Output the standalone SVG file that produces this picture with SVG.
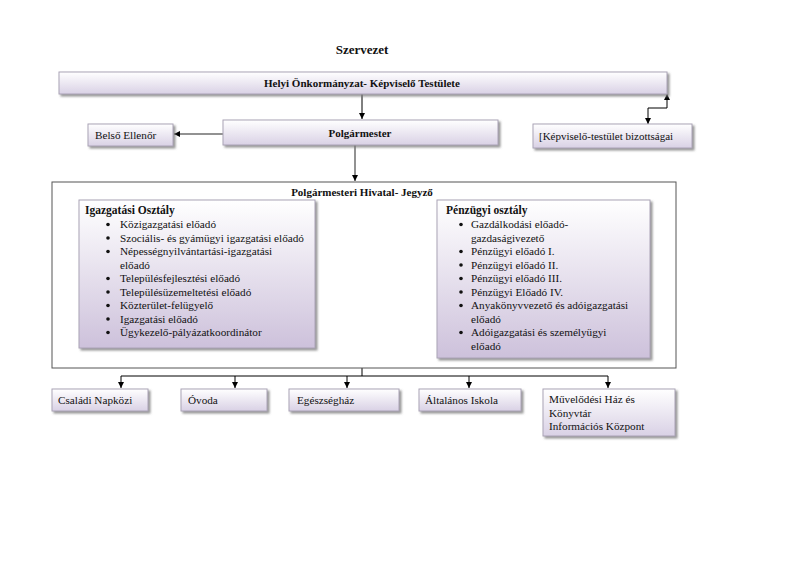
<svg xmlns="http://www.w3.org/2000/svg" width="800" height="566" viewBox="0 0 800 566">
<defs>
<linearGradient id="g" x1="0" y1="0" x2="0" y2="1">
<stop offset="0" stop-color="#ffffff"/>
<stop offset="1" stop-color="#d9d1e5"/>
</linearGradient>
<linearGradient id="g2" x1="0" y1="0" x2="0" y2="1">
<stop offset="0" stop-color="#ffffff"/>
<stop offset="1" stop-color="#cdc1db"/>
</linearGradient>
<filter id="sh" x="-5%" y="-5%" width="115%" height="130%">
<feDropShadow dx="2" dy="2" stdDeviation="0.8" flood-color="#7a7a7a" flood-opacity="0.8"/>
</filter>
<marker id="ah" viewBox="0 0 10 10" refX="10" refY="5" markerWidth="6" markerHeight="6" orient="auto-start-reverse" markerUnits="userSpaceOnUse">
<path d="M0,0 L10,5 L0,10 z" fill="#000"/>
</marker>
</defs>
<style>
text{font-family:"Liberation Serif","Times New Roman",serif;fill:#111;}
.b{font-weight:bold;font-size:11px;}
.h{font-weight:bold;font-size:11.5px;}
.t{font-size:11.2px;}
.l{font-size:11.2px;}
.box{fill:url(#g);stroke:#aaa3b6;stroke-width:1;filter:url(#sh);}
.box2{fill:url(#g2);stroke:#aaa3b6;stroke-width:1;filter:url(#sh);}
.c{fill:none;stroke:#000;stroke-width:1;}
.cg{fill:none;stroke:#6e6e6e;stroke-width:1.5;}
.bu{fill:#111;}
</style>
<rect width="800" height="566" fill="#fff"/>
<text x="362" y="54" class="b" style="font-size:13px" text-anchor="middle">Szervezet</text>

<g id="connectors">
<line x1="362" y1="94" x2="362" y2="119" class="c" marker-end="url(#ah)"/>
<line x1="223" y1="134" x2="174" y2="134" class="cg" marker-end="url(#ah)"/>
<path d="M648,124 L648,108 L667,108 L667,94" class="c" marker-start="url(#ah)" marker-end="url(#ah)"/>
<line x1="355" y1="145" x2="355" y2="181" class="cg" marker-end="url(#ah)"/>
<path d="M362,368 L362,376" class="c"/>
<path d="M121,376 L608,376" class="c"/>
<line x1="121" y1="376" x2="121" y2="388" class="c" marker-end="url(#ah)"/>
<line x1="235" y1="376" x2="235" y2="388" class="c" marker-end="url(#ah)"/>
<line x1="347" y1="376" x2="347" y2="388" class="c" marker-end="url(#ah)"/>
<line x1="469" y1="376" x2="469" y2="388" class="c" marker-end="url(#ah)"/>
<line x1="608" y1="376" x2="608" y2="388" class="c" marker-end="url(#ah)"/>
</g>

<g id="testulet">
<rect x="59" y="72" width="608" height="22" class="box"/>
<text x="362" y="87" class="b" text-anchor="middle">Helyi Önkormányzat- Képviselő Testülete</text>
</g>
<g id="polgarmester">
<rect x="223" y="120" width="275" height="25" class="box"/>
<text x="360" y="137" class="b" text-anchor="middle">Polgármester</text>
</g>
<g id="belso-ellenor">
<rect x="88" y="124" width="85" height="22" class="box"/>
<text x="95" y="139" class="t">Belső Ellenőr</text>
</g>
<g id="bizottsagai">
<rect x="533" y="124" width="159" height="24" class="box"/>
<text x="539" y="140" style="font-size:11px">[Képviselő-testület bizottságai</text>
</g>

<g id="hivatal">
<rect x="52" y="182" width="624" height="186" fill="#fff" stroke="#555" stroke-width="1"/>
<text x="362" y="196" class="b" text-anchor="middle">Polgármesteri Hivatal- Jegyző</text>
</g>

<g id="igazgatasi">
<rect x="79" y="200" width="236" height="148" class="box2"/>
<text x="85" y="214" class="h">Igazgatási Osztály</text>
<g class="bu">
<circle cx="108" cy="224.5" r="1.8"/>
<circle cx="108" cy="238" r="1.8"/>
<circle cx="108" cy="251.5" r="1.8"/>
<circle cx="108" cy="278.5" r="1.8"/>
<circle cx="108" cy="292" r="1.8"/>
<circle cx="108" cy="305.5" r="1.8"/>
<circle cx="108" cy="319" r="1.8"/>
<circle cx="108" cy="332.5" r="1.8"/>
</g>
<text x="120" y="228" class="l">Közigazgatási előadó</text>
<text x="120" y="241.5" class="l">Szociális- és gyámügyi igazgatási előadó</text>
<text x="120" y="255" class="l">Népességnyilvántartási-igazgatási</text>
<text x="120" y="268.5" class="l">előadó</text>
<text x="120" y="282" class="l">Településfejlesztési előadó</text>
<text x="120" y="295.5" class="l">Településüzemeltetési előadó</text>
<text x="120" y="309" class="l">Közterület-felügyelő</text>
<text x="120" y="322.5" class="l">Igazgatási előadó</text>
<text x="120" y="336" class="l">Ügykezelő-pályázatkoordinátor</text>
</g>

<g id="penzugyi">
<rect x="437" y="200" width="213" height="158" class="box2"/>
<text x="446" y="214" class="h">Pénzügyi osztály</text>
<g class="bu">
<circle cx="461" cy="224.5" r="1.8"/>
<circle cx="461" cy="251.5" r="1.8"/>
<circle cx="461" cy="265" r="1.8"/>
<circle cx="461" cy="278.5" r="1.8"/>
<circle cx="461" cy="292" r="1.8"/>
<circle cx="461" cy="305.5" r="1.8"/>
<circle cx="461" cy="332.5" r="1.8"/>
</g>
<text x="471" y="228" class="l">Gazdálkodási előadó-</text>
<text x="471" y="241.5" class="l">gazdaságivezető</text>
<text x="471" y="255" class="l">Pénzügyi előadó I.</text>
<text x="471" y="268.5" class="l">Pénzügyi előadó II.</text>
<text x="471" y="282" class="l">Pénzügyi előadó III.</text>
<text x="471" y="295.5" class="l">Pénzügyi Előadó IV.</text>
<text x="471" y="309" class="l">Anyakönyvvezető és adóigazgatási</text>
<text x="471" y="322.5" class="l">előadó</text>
<text x="471" y="336" class="l">Adóigazgatási és személyügyi</text>
<text x="471" y="349.5" class="l">előadó</text>
</g>

<g id="csaladi-napkozi">
<rect x="52" y="389" width="96" height="22" class="box"/>
<text x="58" y="404" class="t">Családi Napközi</text>
</g>
<g id="ovoda">
<rect x="181" y="389" width="86" height="22" class="box"/>
<text x="188" y="404" class="t">Óvoda</text>
</g>
<g id="egeszseghaz">
<rect x="289" y="389" width="110" height="22" class="box"/>
<text x="297" y="404" class="t">Egészségház</text>
</g>
<g id="altalanos-iskola">
<rect x="419" y="389" width="102" height="22" class="box"/>
<text x="425" y="404" class="t">Általános Iskola</text>
</g>
<g id="muvelodesi-haz">
<rect x="543" y="389" width="132" height="47" class="box"/>
<text x="549" y="403" class="t">Művelődési Ház és</text>
<text x="549" y="416.5" class="t">Könyvtár</text>
<text x="549" y="430" class="t">Információs Központ</text>
</g>
</svg>
